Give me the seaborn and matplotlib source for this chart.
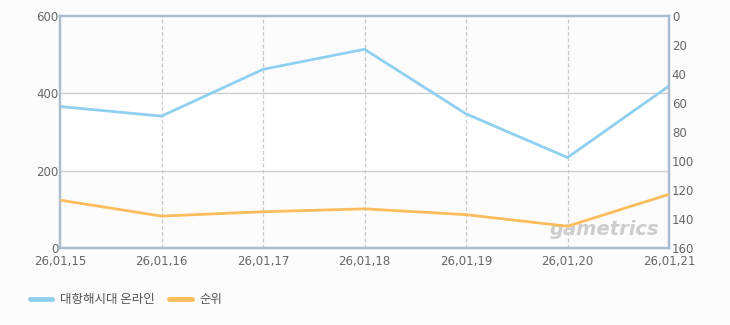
import matplotlib
matplotlib.use("Agg")
import matplotlib.pyplot as plt
from matplotlib.lines import Line2D
import seaborn as sns
import pandas as pd

dates = ["26,01,15", "26,01,16", "26,01,17", "26,01,18", "26,01,19", "26,01,20", "26,01,21"]
users = [366, 341, 462, 514, 347, 234, 419]
rank = [127, 138, 135, 133, 137, 145, 123]
series_names = ["대항해시대 온라인", "순위"]

sns.set_theme(style="white")
plt.rcParams['font.family'] = ['Noto Sans CJK KR', 'DejaVu Sans']

blue = "#8fd0f0"
orange = "#fdbd5c"
spine_c = "#aabdd0"
txt_c = "#666666"

df = pd.DataFrame({"x": list(range(len(dates))), "users": users, "rank": rank})

fig = plt.figure(figsize=(7.3, 3.25), dpi=100, facecolor="#fcfcfc")
ax = fig.add_axes([60/730, 1-248/325, (669-60)/730, (248-16)/325])
ax.set_facecolor("#fcfcfc")
ax.axhspan(200, 400, color="white", zorder=0)

for i in range(1, len(dates)-1):
    ax.axvline(i, color="#c8c8c8", linestyle=(0, (3, 2)), linewidth=0.9, zorder=1)
for yv in (200, 400):
    ax.axhline(yv, color="#cccccc", linewidth=0.9, zorder=1)

sns.lineplot(data=df, x="x", y="users", ax=ax, color=blue, linewidth=2, zorder=3, legend=False)
ax.set_xlim(0, len(dates)-1)
ax.set_ylim(0, 600)
ax.set_yticks([0, 200, 400, 600])
ax.set_xticks(range(len(dates)))
ax.set_xticklabels(dates)
ax.set_xlabel("")
ax.set_ylabel("")
ax.tick_params(axis="y", colors=txt_c, labelsize=8.5, length=0, pad=1)
ax.tick_params(axis="x", colors=txt_c, labelsize=8.5, length=0, pad=5)
for lab in ax.get_xticklabels() + ax.get_yticklabels():
    lab.set_family(['DejaVu Sans'])

ax2 = ax.twinx()
sns.lineplot(data=df, x="x", y="rank", ax=ax2, color=orange, linewidth=2, zorder=3, legend=False)
ax2.set_ylim(160, 0)
ax2.set_yticks([0, 20, 40, 60, 80, 100, 120, 140, 160])
ax2.set_ylabel("")
ax2.tick_params(axis="y", colors=txt_c, labelsize=8.5, length=0, pad=2)
for lab in ax2.get_yticklabels():
    lab.set_family(['DejaVu Sans'])

for a in (ax, ax2):
    for s in a.spines.values():
        s.set_color(spine_c)
        s.set_linewidth(1.6)
ax.spines["left"].set_color("#a0b0c4")
ax.spines["bottom"].set_color("#a0b0c4")

ax.text(0.983, 0.08, "gametrics", transform=ax.transAxes, ha="right", va="center",
        fontsize=14, fontweight="bold", fontstyle="italic", color="#cdcdcd",
        family=['DejaVu Sans'], zorder=2)

handles = [Line2D([], [], color=blue, linewidth=3.5), Line2D([], [], color=orange, linewidth=3.5)]
fig.legend(handles, series_names, loc="center left", bbox_to_anchor=(0.025, 1-300/325),
           frameon=False, ncol=2, fontsize=9, handlelength=1.8, handletextpad=0.6,
           columnspacing=1.2, labelcolor="#555555")

fig.savefig("out.png", dpi=100, facecolor=fig.get_facecolor())
